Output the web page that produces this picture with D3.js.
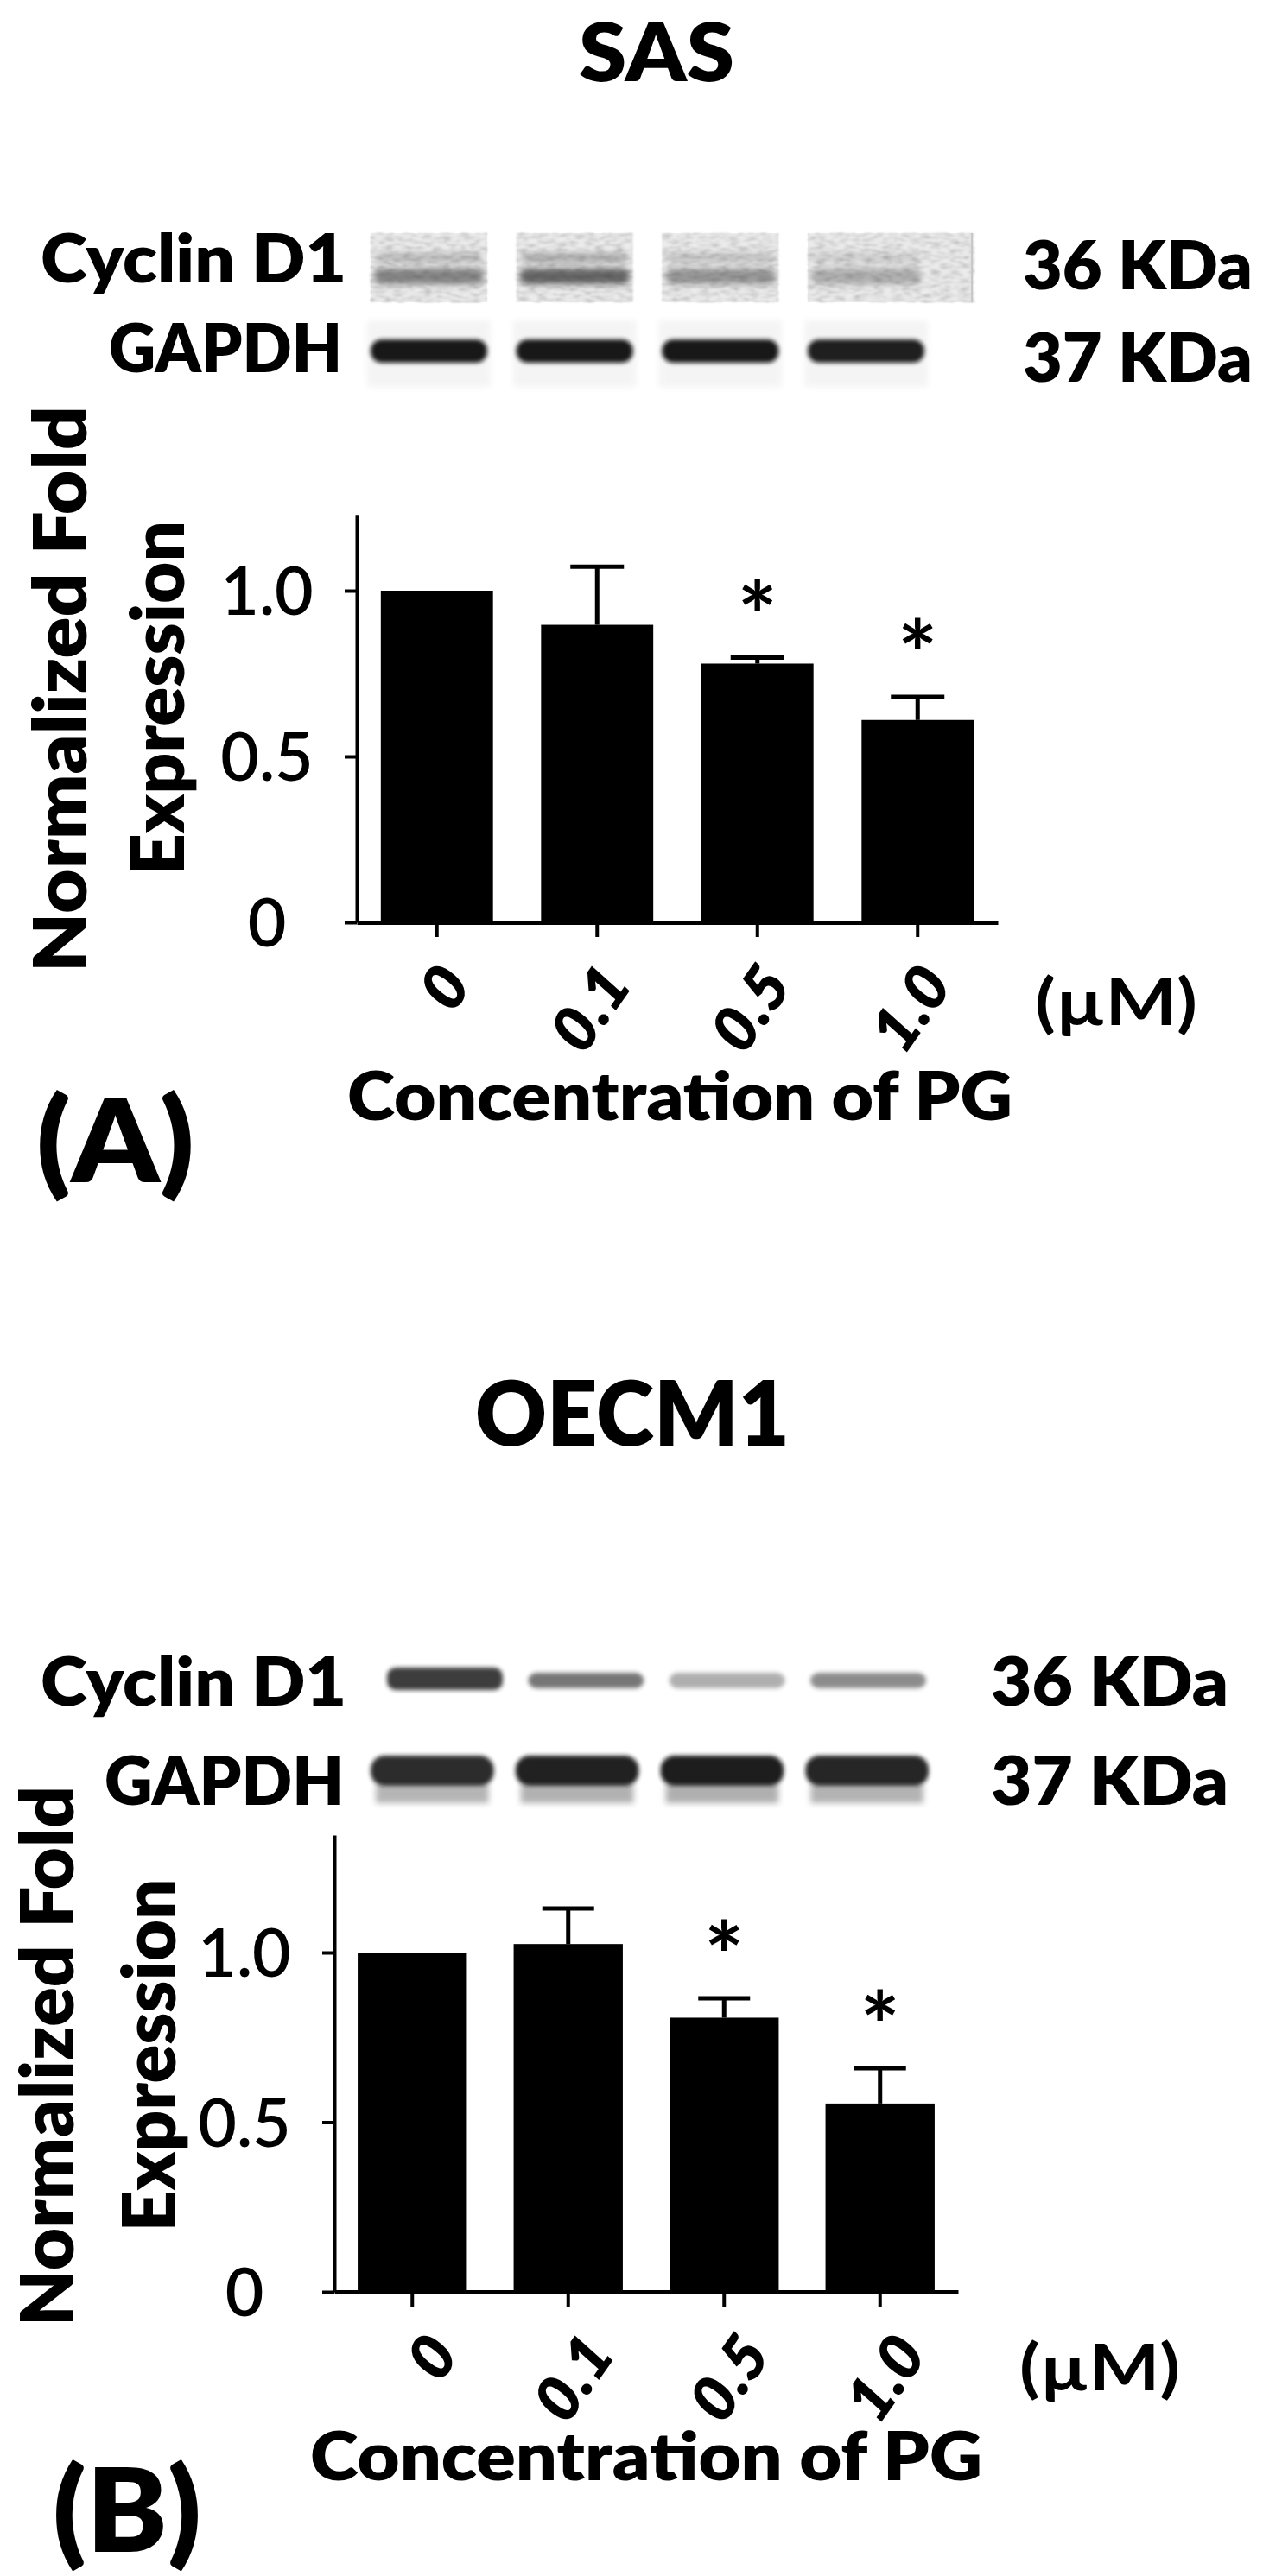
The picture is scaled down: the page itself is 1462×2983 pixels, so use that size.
<!DOCTYPE html>
<html><head><meta charset="utf-8">
<script src="https://cdn.jsdelivr.net/npm/d3@7"></script>
<style>
body{margin:0;background:#fff}
svg{display:block}
text{font-family:Lato,"Open Sans",sans-serif;fill:#000}
</style>
</head><body>
<svg id="c" width="1462" height="2983"></svg>
<script>
// ---------------- data ----------------
const categories = ["0", "0.1", "0.5", "1.0"];
const sasMean = [1.0, 0.897, 0.780, 0.610];
const sasErr = [0, 0.175, 0.018, 0.070];
const sasSig = [false, false, true, true];
const oecmMean = [1.0, 1.025, 0.808, 0.555];
const oecmErr = [0, 0.105, 0.057, 0.104];
const oecmSig = [false, false, true, true];
const yTicks = [0, 0.5, 1.0];
const yTickLabels = ["0", "0.5", "1.0"];
// relative band darkness of the western blot lanes
const sasCyclinBand = [0.55, 0.72, 0.45, 0.32];
const sasGapdhBand = [0.95, 0.95, 0.95, 0.92];
const oecmCyclinBand = [0.85, 0.6, 0.35, 0.5];
const oecmGapdhBand = [0.9, 0.95, 0.97, 0.93];

// ---------------- layout ----------------
const panels = [
  {
    letter: "(A)", title: "SAS", mean: sasMean, err: sasErr, sig: sasSig,
    cyclin: sasCyclinBand, gapdh: sasGapdhBand,
    titleX: 760, titleY: 94, titleLen: 180, titleSize: 93,
    cycY: 327, gapY: 431, kda36Y: 335, kda37Y: 442, kdaX: 1184, kdaLen: 266,
    cycLabelX: 47, cycLen: 354, gapLabelX: 126, gapLen: 270,
    cycStrip: [270, 350], cycBand: [311, 329], cycUpper: [293, 304], gapBand: [393, 420],
    laneRange: [429, 1070], stripExtra: 1128,
    xRange: [413, 1155], y0: 1068, y1: 684, yTop: 1.23, capW: 62,
    yTickX: 309, yLab1X: 100, yLab1Y: 798, yLab1Len: 656, yLab2X: 213, yLab2Y: 808, yLab2Len: 410,
    xLabOff: 42, xLabY: 1141, umX: 1198, umY: 1187, umLen: 188,
    concX: 787, concY: 1297, concLen: 770, letX: 42, letY: 1369, letLen: 183,
    blotStyle: "A"
  },
  {
    letter: "(B)", title: "OECM1", mean: oecmMean, err: oecmErr, sig: oecmSig,
    cyclin: oecmCyclinBand, gapdh: oecmGapdhBand,
    titleX: 732, titleY: 1674, titleLen: 364, titleSize: 104,
    cycY: 1975, gapY: 2090, kda36Y: 1975, kda37Y: 2090, kdaX: 1147, kdaLen: 275,
    cycLabelX: 47, cycLen: 354, gapLabelX: 121, gapLen: 277,
    cycStrip: [1915, 1975], cycBand: [1931, 1957], cycUpper: null, gapBand: [2033, 2076],
    laneRange: [440, 1075], stripExtra: null,
    xRange: [387, 1109], y0: 2654, y1: 2261, yTop: 1.346, capW: 60,
    yTickX: 283, yLab1X: 85, yLab1Y: 2381, yLab1Len: 626, yLab2X: 203, yLab2Y: 2380, yLab2Len: 409,
    xLabOff: 56, xLabY: 2727, umX: 1180, umY: 2768, umLen: 186,
    concX: 748, concY: 2872, concLen: 778, letX: 61, letY: 2955, letLen: 172,
    blotStyle: "B"
  }
];

const svg = d3.select("#c");
svg.append("rect").attr("width", 1462).attr("height", 2983).attr("fill", "#fff");

const defs = svg.append("defs");
[["blur1", 1.2], ["blur2", 2.5], ["blur3", 3.5], ["blur5", 5]].forEach(([id, s]) => {
  defs.append("filter").attr("id", id).attr("x", "-30%").attr("y", "-80%").attr("width", "160%").attr("height", "260%")
    .append("feGaussianBlur").attr("stdDeviation", s);
});
// grainy blot texture
const grain = defs.append("filter").attr("id", "grain").attr("x", "-10%").attr("y", "-20%").attr("width", "120%").attr("height", "140%");
grain.append("feTurbulence").attr("type", "fractalNoise").attr("baseFrequency", "0.09 0.35").attr("numOctaves", 2).attr("seed", 3).attr("result", "noise");
grain.append("feColorMatrix").attr("in", "noise").attr("type", "matrix")
  .attr("values", "0 0 0 0 0  0 0 0 0 0  0 0 0 0 0  0 0 0 -0.9 0.55").attr("result", "dots");
grain.append("feComposite").attr("in", "dots").attr("in2", "SourceGraphic").attr("operator", "in").attr("result", "g1");
grain.append("feGaussianBlur").attr("in", "g1").attr("stdDeviation", 1).attr("result", "g2");
const gm = grain.append("feMerge");
gm.append("feMergeNode").attr("in", "SourceGraphic");
gm.append("feMergeNode").attr("in", "g2");

function txt(g, s, x, y, o) {
  const t = g.append("text").attr("x", x).attr("y", y).text(s)
    .attr("font-size", o.size).attr("font-weight", o.weight || 800)
    .attr("text-anchor", o.anchor || "start");
  if (o.italic) t.attr("font-style", "italic");
  if (o.len) t.attr("textLength", o.len).attr("lengthAdjust", "spacingAndGlyphs");
  return t;
}

panels.forEach(p => {
  const g = svg.append("g");

  // title
  txt(g, p.title, p.titleX, p.titleY, {size: p.titleSize, anchor: "middle", len: p.titleLen});

  // blot labels
  txt(g, "Cyclin D1", p.cycLabelX, p.cycY, {size: 78, len: p.cycLen});
  txt(g, "GAPDH", p.gapLabelX, p.gapY, {size: 78, len: p.gapLen});
  txt(g, "36 KDa", p.kdaX, p.kda36Y, {size: 78, len: p.kdaLen});
  txt(g, "37 KDa", p.kdaX, p.kda37Y, {size: 78, len: p.kdaLen});

  // blot lanes
  const lane = d3.scaleBand().domain(categories).range(p.laneRange).paddingInner(0.2);
  const blot = g.append("g");
  if (p.blotStyle === "A") {
    blot.selectAll(".bg").data(categories).join("rect")
      .attr("x", (d, i) => lane(d)).attr("width", (d, i) => i === 3 ? p.stripExtra - lane(d) : lane.bandwidth())
      .attr("y", p.cycStrip[0]).attr("height", p.cycStrip[1] - p.cycStrip[0])
      .attr("fill", "#ececec").attr("filter", "url(#grain)");
    blot.append("line").attr("x1", p.stripExtra - 3).attr("x2", p.stripExtra - 3)
      .attr("y1", p.cycStrip[0]).attr("y2", p.cycStrip[1]).attr("stroke", "#c8c8c8").attr("stroke-width", 2);
    blot.selectAll(".up").data(p.cyclin).join("rect")
      .attr("x", (d, i) => lane(categories[i]) + 6).attr("width", lane.bandwidth() - 12)
      .attr("y", p.cycUpper[0]).attr("height", p.cycUpper[1] - p.cycUpper[0]).attr("rx", 5)
      .attr("fill", "#444").attr("opacity", d => d * 0.5).attr("filter", "url(#blur3)");
    blot.selectAll(".cb").data(p.cyclin).join("rect")
      .attr("x", (d, i) => lane(categories[i]) + 4).attr("width", lane.bandwidth() - 8)
      .attr("y", p.cycBand[0]).attr("height", p.cycBand[1] - p.cycBand[0]).attr("rx", 8)
      .attr("fill", "#333").attr("opacity", d => d).attr("filter", "url(#blur3)");
    blot.selectAll(".gh").data(p.gapdh).join("rect")
      .attr("x", (d, i) => lane(categories[i]) - 4).attr("width", lane.bandwidth() + 8)
      .attr("y", p.gapBand[0] - 22).attr("height", p.gapBand[1] - p.gapBand[0] + 50)
      .attr("fill", "#f4f4f4").attr("filter", "url(#blur3)");
    blot.selectAll(".gb").data(p.gapdh).join("rect")
      .attr("x", (d, i) => lane(categories[i])).attr("width", lane.bandwidth())
      .attr("y", p.gapBand[0]).attr("height", p.gapBand[1] - p.gapBand[0]).attr("rx", 13)
      .attr("fill", "#0d0d0d").attr("opacity", d => d).attr("filter", "url(#blur2)");
  } else {
    const lc = d3.scaleBand().domain(categories).range([448, 1072]).paddingInner(0.18);
    blot.selectAll(".cb").data(p.cyclin).join("rect")
      .attr("x", (d, i) => lc(categories[i])).attr("width", lc.bandwidth())
      .attr("y", (d, i) => p.cycBand[0] + (i === 0 ? 0 : 6)).attr("height", (d, i) => p.cycBand[1] - p.cycBand[0] - (i === 0 ? 0 : 8)).attr("rx", 10)
      .attr("fill", "#1a1a1a").attr("opacity", d => d).attr("filter", "url(#blur2)");
    const lg = d3.scaleBand().domain(categories).range([429, 1075]).paddingInner(0.15);
    blot.selectAll(".gs").data(p.gapdh).join("rect")
      .attr("x", (d, i) => lg(categories[i]) + 6).attr("width", lg.bandwidth() - 12)
      .attr("y", p.gapBand[1] - 10).attr("height", 22)
      .attr("fill", "#777").attr("opacity", d => d * 0.6).attr("filter", "url(#blur3)");
    blot.selectAll(".gb").data(p.gapdh).join("rect")
      .attr("x", (d, i) => lg(categories[i])).attr("width", lg.bandwidth())
      .attr("y", p.gapBand[0]).attr("height", p.gapBand[1] - p.gapBand[0] - 8).attr("rx", 16)
      .attr("fill", "#151515").attr("opacity", d => d).attr("filter", "url(#blur2)");
  }

  // scales
  const x = d3.scaleBand().domain(categories).range(p.xRange).paddingInner(0.3).paddingOuter(0.15);
  const k = (p.y0 - p.y1);
  const y = d3.scaleLinear().domain([0, p.yTop]).range([p.y0, p.y0 - k * p.yTop]);

  // bars
  g.selectAll(".bar").data(p.mean).join("rect")
    .attr("x", (d, i) => x(categories[i])).attr("width", x.bandwidth())
    .attr("y", d => y(d)).attr("height", d => p.y0 - y(d)).attr("fill", "#000");

  // error bars
  const eb = g.selectAll(".eb").data(p.mean.map((m, i) => ({m, e: p.err[i], c: categories[i]})).filter(d => d.e > 0))
    .join("g").attr("stroke", "#000").attr("stroke-width", 5);
  eb.append("line").attr("x1", d => x(d.c) + x.bandwidth() / 2).attr("x2", d => x(d.c) + x.bandwidth() / 2)
    .attr("y1", d => y(d.m)).attr("y2", d => y(d.m + d.e));
  eb.append("line").attr("x1", d => x(d.c) + x.bandwidth() / 2 - p.capW / 2).attr("x2", d => x(d.c) + x.bandwidth() / 2 + p.capW / 2)
    .attr("y1", d => y(d.m + d.e)).attr("y2", d => y(d.m + d.e));

  // significance stars
  g.selectAll(".star").data(p.mean.map((m, i) => ({m, e: p.err[i], s: p.sig[i], c: categories[i]})).filter(d => d.s))
    .join("text").attr("x", d => x(d.c) + x.bandwidth() / 2).attr("y", d => y(d.m + d.e) - 72 + 62)
    .attr("text-anchor", "middle").attr("font-size", 108).attr("font-weight", 700).text("*");

  // axes
  const yAxis = d3.axisLeft(y).tickValues(yTicks).tickSize(14).tickSizeOuter(0).tickFormat("");
  const ya = g.append("g").attr("transform", `translate(${p.xRange[0]},0)`).call(yAxis);
  ya.selectAll("path,line").attr("stroke", "#000").attr("stroke-width", 4);
  const xAxis = d3.axisBottom(x).tickSize(17).tickSizeOuter(0).tickFormat("");
  const xa = g.append("g").attr("transform", `translate(0,${p.y0})`).call(xAxis);
  xa.select("path").attr("stroke", "#000").attr("stroke-width", 5);
  xa.selectAll("line").attr("stroke", "#000").attr("stroke-width", 4);

  // y tick labels
  yTicks.forEach((v, i) => {
    txt(g, yTickLabels[i], p.yTickX, y(v) + 28, {size: 77, weight: 600, anchor: "middle"});
  });

  // x tick labels (rotated)
  categories.forEach(c => {
    const cx = x(c) + x.bandwidth() / 2 + p.xLabOff;
    g.append("text").attr("transform", `translate(${cx},${p.xLabY}) rotate(-55)`)
      .attr("text-anchor", "end").attr("font-size", 72).attr("font-weight", 800)
      .attr("font-style", "italic").text(c);
  });

  txt(g, "(\u00b5M)", p.umX, p.umY, {size: 75, len: p.umLen, weight: 700});
  txt(g, "Concentration of PG", p.concX, p.concY, {size: 78, anchor: "middle", len: p.concLen});
  txt(g, p.letter, p.letX, p.letY, {size: 135, len: p.letLen});

  // y axis title
  g.append("text").attr("transform", `translate(${p.yLab1X},${p.yLab1Y}) rotate(-90)`)
    .attr("text-anchor", "middle").attr("font-size", 85).attr("font-weight", 800)
    .attr("textLength", p.yLab1Len).attr("lengthAdjust", "spacingAndGlyphs").text("Normalized Fold");
  g.append("text").attr("transform", `translate(${p.yLab2X},${p.yLab2Y}) rotate(-90)`)
    .attr("text-anchor", "middle").attr("font-size", 85).attr("font-weight", 800)
    .attr("textLength", p.yLab2Len).attr("lengthAdjust", "spacingAndGlyphs").text("Expression");
});
</script>
</body></html>
